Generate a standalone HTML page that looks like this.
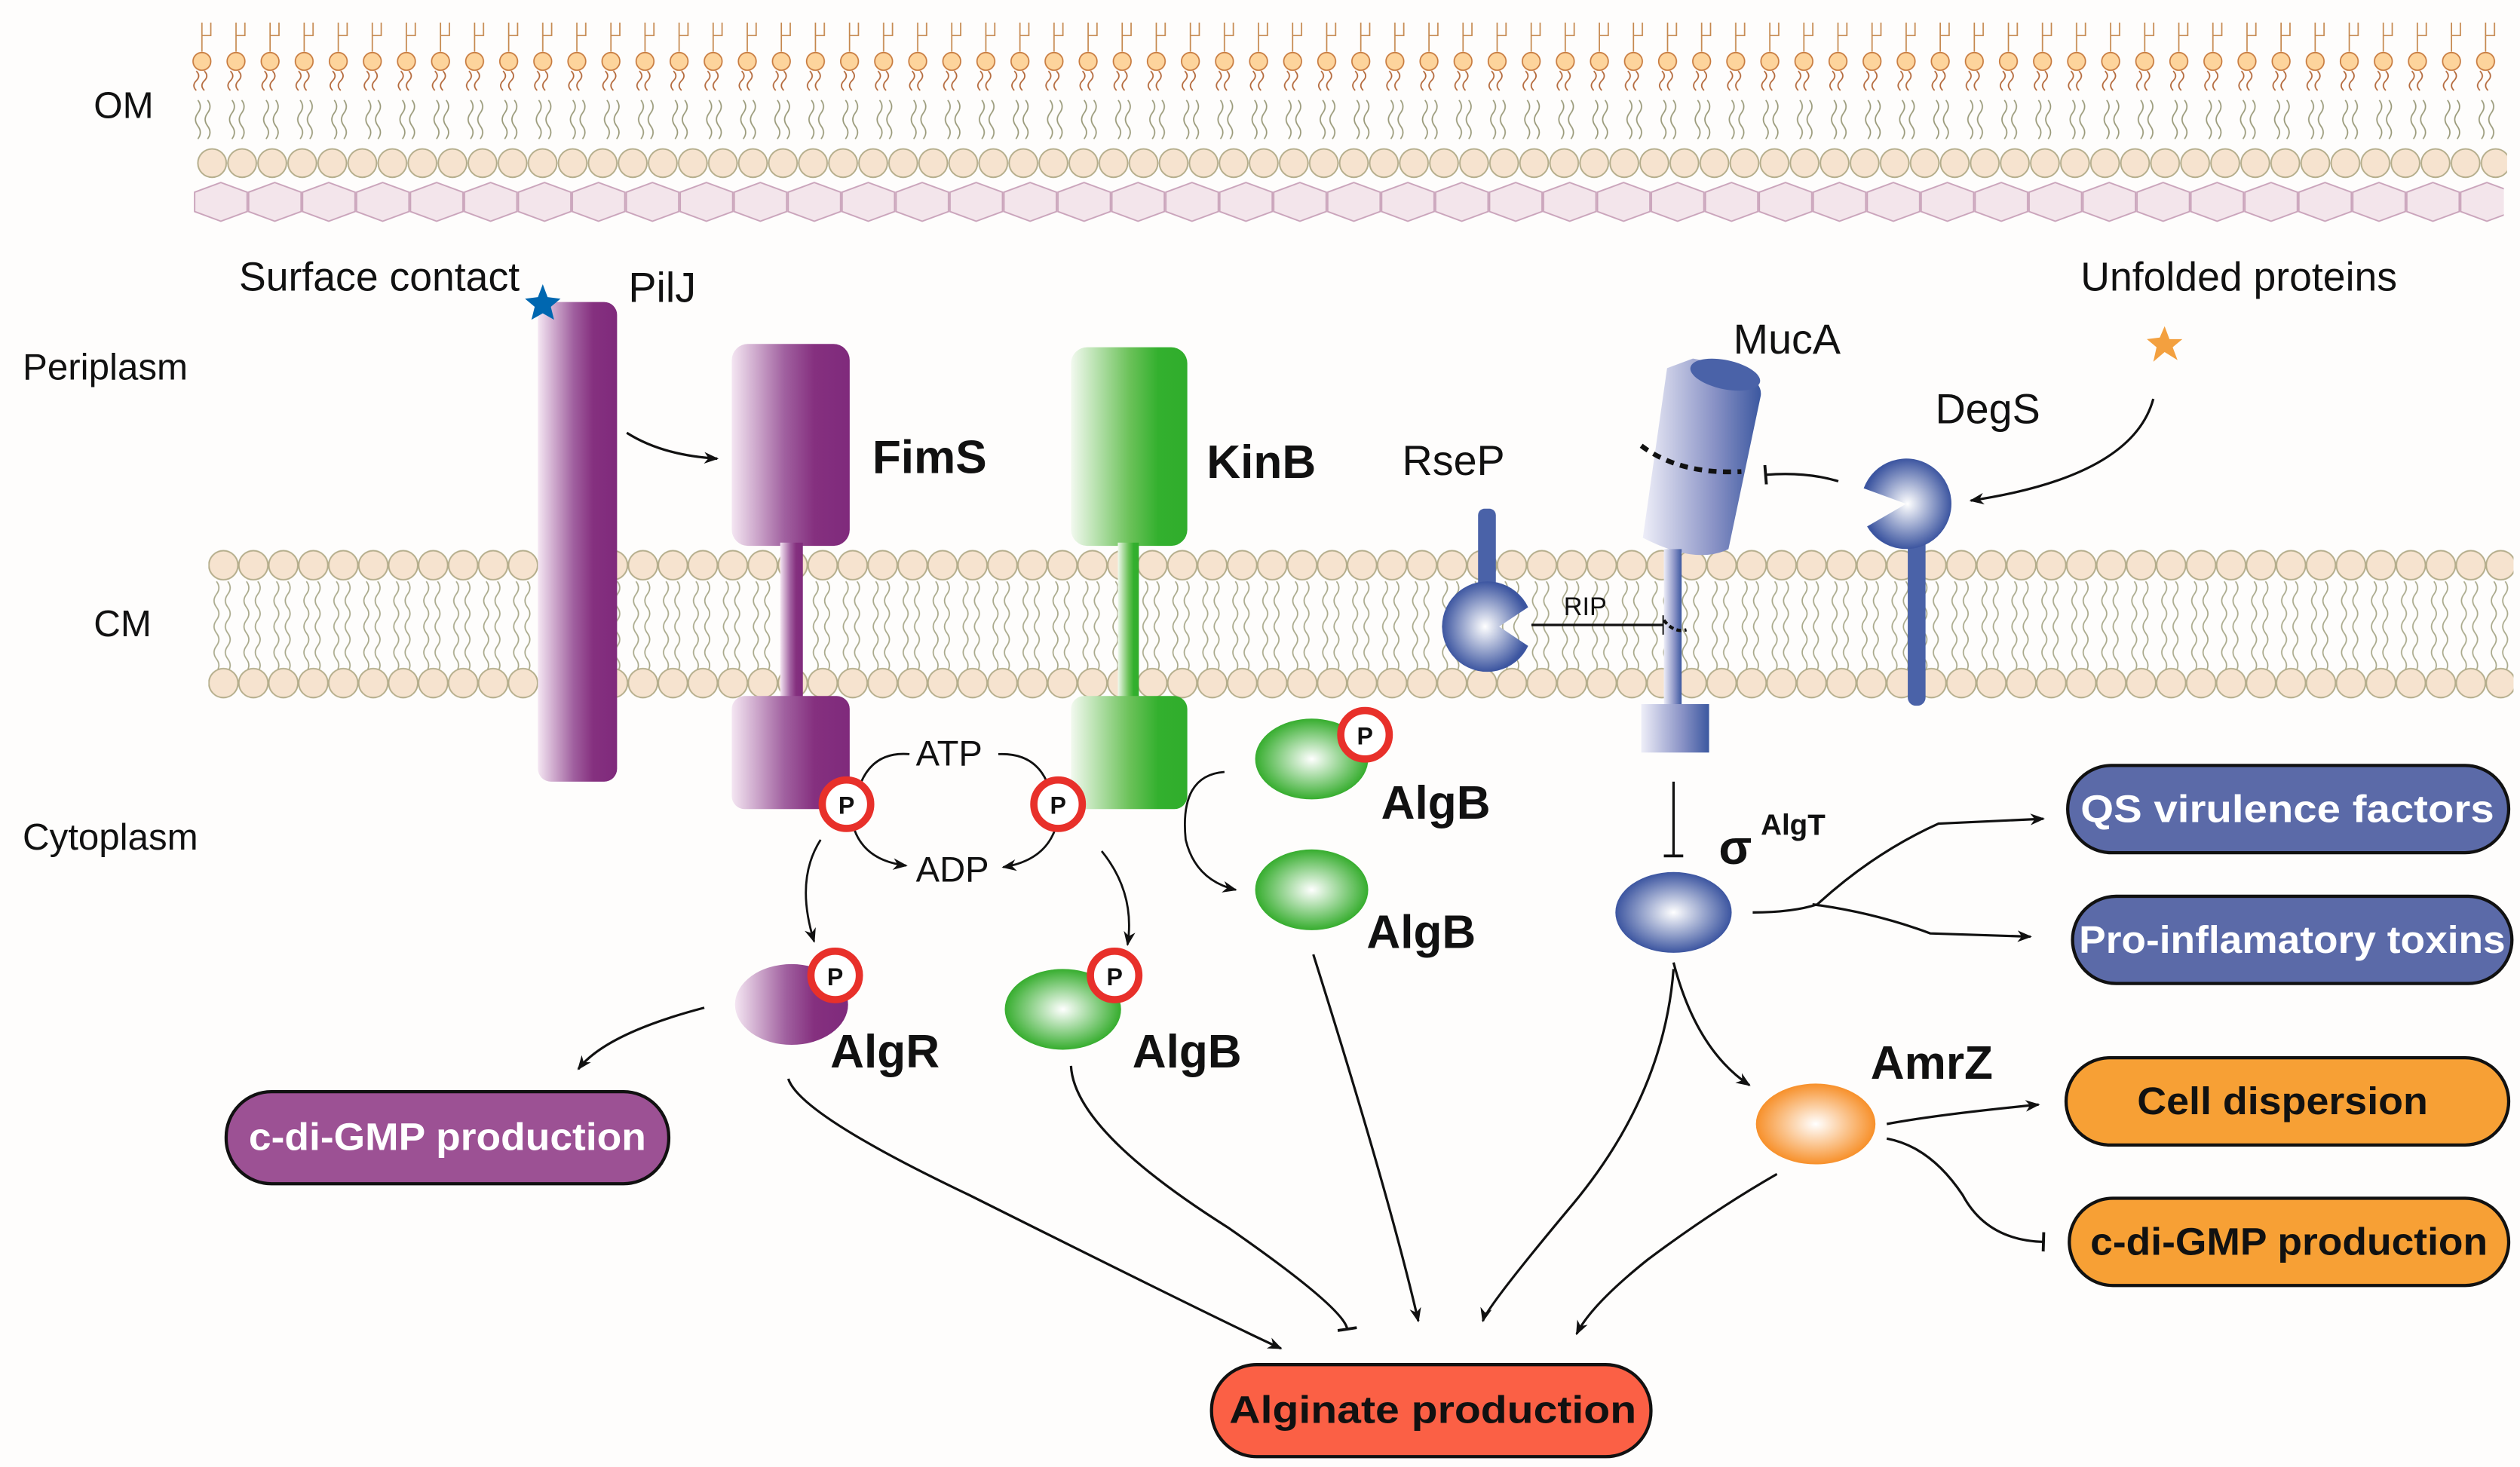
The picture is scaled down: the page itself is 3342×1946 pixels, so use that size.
<!DOCTYPE html>
<html><head><meta charset="utf-8"><style>
html,body{margin:0;padding:0;background:#fefdfc;}
svg{display:block}
text{font-family:"Liberation Sans",Arial,sans-serif;}
</style></head><body>
<svg width="3342" height="1946" viewBox="0 0 1560 908.4" preserveAspectRatio="none" xmlns="http://www.w3.org/2000/svg">
<defs>
<linearGradient id="pur" x1="0" x2="1" y1="0" y2="0"><stop offset="0" stop-color="#f4e6f2"/><stop offset="0.45" stop-color="#a0609f"/><stop offset="0.7" stop-color="#85307f"/><stop offset="1" stop-color="#7f2a7c"/></linearGradient>
<linearGradient id="grn" x1="0" x2="1" y1="0" y2="0"><stop offset="0" stop-color="#f2f9ef"/><stop offset="0.5" stop-color="#6cc25a"/><stop offset="0.75" stop-color="#33b02e"/><stop offset="1" stop-color="#30ad2c"/></linearGradient>
<linearGradient id="blu" x1="0" x2="1" y1="0" y2="0"><stop offset="0" stop-color="#eeeef8"/><stop offset="0.6" stop-color="#8a93c6"/><stop offset="1" stop-color="#3c58a0"/></linearGradient>
<radialGradient id="rg"><stop offset="0" stop-color="#fff"/><stop offset="1" stop-color="#36ad2e"/></radialGradient>
<radialGradient id="rb"><stop offset="0" stop-color="#fff"/><stop offset="1" stop-color="#3c55a0"/></radialGradient>
<radialGradient id="ro"><stop offset="0" stop-color="#fff"/><stop offset="1" stop-color="#f7902a"/></radialGradient>
<pattern id="omh" x="114.5" y="0" width="21.1" height="100" patternUnits="userSpaceOnUse">
<path d="M10.5 32 V14 M10.5 22 H16 V14" stroke="#c5884e" stroke-width="0.8" fill="none"/>
<path d="M7 44 q3 3 0 6 q-3 3 0 6 M12 44 q3 3 0 6 q-3 3 0 6" stroke="#b3683a" stroke-width="0.8" fill="none"/>
<path d="M8 62 q3 4 0 8 q-3 4 0 8 q3 4 0 8 M14 62 q3 4 0 8 q-3 4 0 8 q3 4 0 8" stroke="#9a9a7a" stroke-width="0.8" fill="none"/>
<circle cx="10.5" cy="38" r="5.5" fill="#fdd49c" stroke="#c77a3e" stroke-width="0.8"/>
</pattern>
<pattern id="omc" x="122" y="0" width="18.6" height="200" patternUnits="userSpaceOnUse">
<circle cx="9.3" cy="101" r="8.8" fill="#f6e3cf" stroke="#b4ad8b" stroke-width="0.9"/>
</pattern>
<pattern id="hex" x="120" y="0" width="33.4" height="200" patternUnits="userSpaceOnUse">
<path d="M0.5 119 L16.7 113 L33 119 V131 L16.7 137 L0.5 131 Z" fill="#f3e5eb" stroke="#caa4bb" stroke-width="0.9"/>
</pattern>
<pattern id="cm" x="129" y="0" width="18.55" height="500" patternUnits="userSpaceOnUse">
<path d="M5 360 q3 4 0 8 q-3 4 0 8 q3 4 0 8 q-3 4 0 8 q3 4 0 8 q-3 4 0 8 q3 4 0 8 M12 360 q3 4 0 8 q-3 4 0 8 q3 4 0 8 q-3 4 0 8 q3 4 0 8 q-3 4 0 8 q3 4 0 8" stroke="#a9a98b" stroke-width="0.8" fill="none"/>
<circle cx="9.3" cy="350" r="9" fill="#f6e3cf" stroke="#b4ad8b" stroke-width="0.9"/>
<circle cx="9.3" cy="423" r="9" fill="#f6e3cf" stroke="#b4ad8b" stroke-width="0.9"/>
</pattern>
<marker id="ar" viewBox="0 0 10 10" refX="9" refY="5" markerWidth="9" markerHeight="9" markerUnits="userSpaceOnUse" orient="auto"><path d="M0 1 L10 5 L0 9 L3 5Z" fill="#111"/></marker>
<marker id="tb" viewBox="0 0 10 10" refX="5" refY="5" markerWidth="12" markerHeight="12" markerUnits="userSpaceOnUse" orient="auto"><path d="M5 0 V10" stroke="#111" stroke-width="1.5"/></marker>
</defs>
<rect width="1560" height="908.4" fill="#fefdfc"/>
<rect x="114.5" y="10" width="1434" height="86" fill="url(#omh)"/>
<rect x="122" y="90" width="1430" height="22" fill="url(#omc)"/>
<rect x="120" y="110" width="1430" height="30" fill="url(#hex)"/>
<rect x="129" y="339" width="1427" height="96" fill="url(#cm)"/>

<g font-size="23" fill="#111">
<text x="58" y="73">OM</text>
<text x="14" y="235">Periplasm</text>
<text x="58" y="394">CM</text>
<text x="14" y="526">Cytoplasm</text>
<text x="148" y="180" font-size="25">Surface contact</text>
<text x="389" y="187" font-size="26">PilJ</text>
<text x="868" y="294" font-size="26">RseP</text>
<text x="1073" y="219" font-size="26">MucA</text>
<text x="1198" y="262" font-size="26">DegS</text>
<text x="1288" y="180" font-size="25">Unfolded proteins</text>
<text x="968" y="381" font-size="16">RIP</text>
<text x="567" y="474" font-size="22">ATP</text>
<text x="567" y="546" font-size="22">ADP</text>
</g>

<rect x="333" y="187" width="49" height="297" rx="8" fill="url(#pur)"/>
<polygon points="336,176 339,184 347,185 341,190 343,198 336,194 329,198 331,190 325,185 333,184" fill="#0067b0"/>
<path d="M388 268 Q410 282 444 284" stroke="#111" stroke-width="1.5" fill="none" marker-end="url(#ar)"/>
<rect x="453" y="213" width="73" height="125" rx="10" fill="url(#pur)"/>
<rect x="483" y="336" width="14" height="98" fill="url(#pur)"/>
<rect x="453" y="431" width="73" height="70" rx="8" fill="url(#pur)"/>
<rect x="663" y="215" width="72" height="123" rx="10" fill="url(#grn)"/>
<rect x="692" y="336" width="13" height="98" fill="url(#grn)"/>
<rect x="663" y="431" width="72" height="70" rx="8" fill="url(#grn)"/>
<g font-size="29" font-weight="bold" fill="#111">
<text x="540" y="293">FimS</text>
<text x="747" y="296">KinB</text>
<text x="855" y="507">AlgB</text>
<text x="846" y="587">AlgB</text>
<text x="514" y="661">AlgR</text>
<text x="701" y="661">AlgB</text>
<text x="1158" y="668">AmrZ</text>
<text x="1064" y="535" font-size="30">σ</text>
<text x="1090" y="517" font-size="18">AlgT</text>
</g>
<path d="M532 487 Q540 465 563 467" stroke="#111" stroke-width="1.3" fill="none"/>
<path d="M618 467 Q640 466 648 484" stroke="#111" stroke-width="1.3" fill="none"/>
<path d="M529 514 Q536 533 561 536" stroke="#111" stroke-width="1.3" fill="none" marker-end="url(#ar)"/>
<path d="M653 514 Q646 533 621 537" stroke="#111" stroke-width="1.3" fill="none" marker-end="url(#ar)"/>
<path d="M508 520 Q492 545 504 583" stroke="#111" stroke-width="1.3" fill="none" marker-end="url(#ar)"/>
<path d="M682 527 Q703 553 698 585" stroke="#111" stroke-width="1.3" fill="none" marker-end="url(#ar)"/>
<path d="M758 478 Q730 480 734 520 Q740 545 765 551" stroke="#111" stroke-width="1.3" fill="none" marker-end="url(#ar)"/>
<ellipse cx="812" cy="470" rx="35" ry="25" fill="url(#rg)"/>
<ellipse cx="812" cy="551" rx="35" ry="25" fill="url(#rg)"/>
<ellipse cx="658" cy="625" rx="36" ry="25" fill="url(#rg)"/>
<ellipse cx="490" cy="622" rx="35" ry="25" fill="url(#pur)"/>
<ellipse cx="1036" cy="565" rx="36" ry="25" fill="url(#rb)"/>
<ellipse cx="1124" cy="696" rx="37" ry="25" fill="url(#ro)"/>
<g fill="#fff" stroke="#e8302a" stroke-width="4.5">
<circle cx="524" cy="498" r="15"/><circle cx="655" cy="498" r="15"/><circle cx="517" cy="604" r="15"/><circle cx="690" cy="604" r="15"/><circle cx="845" cy="455" r="15"/>
</g>
<g font-size="15" font-weight="bold" fill="#111" text-anchor="middle">
<text x="524" y="504">P</text><text x="655" y="504">P</text><text x="517" y="610">P</text><text x="690" y="610">P</text><text x="845" y="461">P</text>
</g>
<rect x="915" y="315" width="11" height="52" rx="4" fill="#4a62a8"/>
<path d="M946 376 A28 28 0 1 0 946 400 L928 388 Z" fill="url(#rb)"/>
<path d="M948 387 H1030" stroke="#111" stroke-width="1.5" fill="none" marker-end="url(#tb)"/>
<path d="M1032 228 L1048 222 Q1092 230 1090 245 L1070 340 Q1050 350 1017 333 Z" fill="url(#blu)"/>
<ellipse cx="1068" cy="232" rx="22" ry="9" transform="rotate(12 1068 232)" fill="#4a62a8"/>
<path d="M1016 276 Q1040 294 1078 292" stroke="#111" stroke-width="3" stroke-dasharray="5,4" fill="none"/>
<rect x="1030" y="340" width="11" height="98" fill="url(#blu)"/>
<path d="M1030 384 Q1036 392 1044 390" stroke="#111" stroke-width="2" stroke-dasharray="3,2" fill="none"/>
<rect x="1016" y="436" width="42" height="30" fill="url(#blu)"/>
<path d="M1138 298 Q1118 292 1093 294" stroke="#111" stroke-width="1.5" fill="none" marker-end="url(#tb)"/>
<rect x="1181" y="325" width="11" height="112" rx="5" fill="#4a62a8"/>
<path d="M1155.8 326 L1180 312 L1153.7 302.4 A28 28 0 1 1 1155.8 326 Z" fill="url(#rb)"/>
<polygon points="1340,202 1343,210 1351,210 1345,215 1348,223 1340,218 1333,224 1335,215 1329,210 1337,209" fill="#f3a03f"/>
<path d="M1333 247 Q1320 295 1220 310" stroke="#111" stroke-width="1.5" fill="none" marker-end="url(#ar)"/>
<path d="M1036 484 V530" stroke="#111" stroke-width="1.5" fill="none" marker-end="url(#tb)"/>
<path d="M1085 565 Q1110 565 1125 560 Q1160 528 1200 510 L1265 507" stroke="#111" stroke-width="1.5" fill="none" marker-end="url(#ar)"/>
<path d="M1122 560 Q1160 565 1195 578 L1257 580" stroke="#111" stroke-width="1.5" fill="none" marker-end="url(#ar)"/>
<path d="M1036 596 Q1050 650 1083 672" stroke="#111" stroke-width="1.5" fill="none" marker-end="url(#ar)"/>
<path d="M1168 696 Q1200 690 1262 684" stroke="#111" stroke-width="1.5" fill="none" marker-end="url(#ar)"/>
<path d="M1168 705 Q1195 710 1215 740 Q1230 768 1265 769" stroke="#111" stroke-width="1.5" fill="none" marker-end="url(#tb)"/>
<path d="M488 668 Q495 690 600 740 Q760 820 793 835" stroke="#111" stroke-width="1.5" fill="none" marker-end="url(#ar)"/>
<path d="M663 660 Q665 700 760 760 Q832 810 834 823" stroke="#111" stroke-width="1.5" fill="none" marker-end="url(#tb)"/>
<path d="M813 591 Q860 740 878 818" stroke="#111" stroke-width="1.5" fill="none" marker-end="url(#ar)"/>
<path d="M1036 600 Q1030 680 970 750 Q920 810 918 818" stroke="#111" stroke-width="1.5" fill="none" marker-end="url(#ar)"/>
<path d="M1100 727 Q1060 750 1020 780 Q985 808 976 826" stroke="#111" stroke-width="1.5" fill="none" marker-end="url(#ar)"/>
<path d="M436 624 Q375 640 358 662" stroke="#111" stroke-width="1.5" fill="none" marker-end="url(#ar)"/>
<g stroke="#111" stroke-width="2">
<rect x="1280" y="474" width="273" height="54" rx="27" fill="#5b6aa8"/>
<rect x="1283" y="555" width="272" height="54" rx="27" fill="#5b6aa8"/>
<rect x="1279" y="655" width="274" height="54" rx="27" fill="#f7a035"/>
<rect x="1281" y="742" width="272" height="54" rx="27" fill="#f7a035"/>
<rect x="140" y="676" width="274" height="57" rx="28" fill="#9c5194"/>
<rect x="750" y="845" width="272" height="57" rx="28" fill="#fb6045"/>
</g>
<g font-size="24" font-weight="bold" text-anchor="middle">
<text x="1416" y="509" fill="#fff" textLength="256" lengthAdjust="spacingAndGlyphs">QS virulence factors</text>
<text x="1419" y="590" fill="#fff" textLength="264" lengthAdjust="spacingAndGlyphs">Pro-inflamatory toxins</text>
<text x="1413" y="690" fill="#111" textLength="180" lengthAdjust="spacingAndGlyphs">Cell dispersion</text>
<text x="1417" y="777" fill="#111" textLength="246" lengthAdjust="spacingAndGlyphs">c-di-GMP production</text>
<text x="277" y="712" fill="#fff" textLength="246" lengthAdjust="spacingAndGlyphs">c-di-GMP production</text>
<text x="887" y="881" fill="#111" textLength="252" lengthAdjust="spacingAndGlyphs">Alginate production</text>
</g>
</svg>
</body></html>
